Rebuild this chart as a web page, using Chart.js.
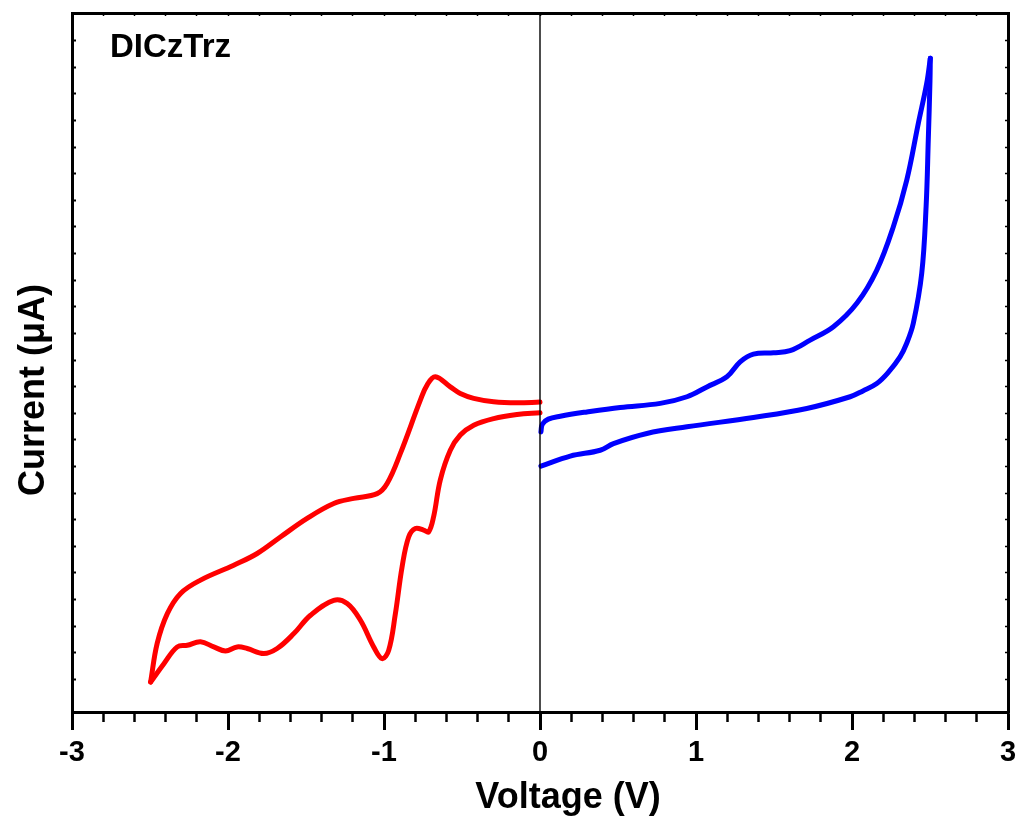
<!DOCTYPE html>
<html>
<head>
<meta charset="utf-8">
<script src="https://cdn.jsdelivr.net/npm/chart.js@4/dist/chart.umd.min.js"></script>
<style>
  html, body { margin: 0; padding: 0; background: #fff; }
  #wrap { width: 1019px; height: 818px; }
</style>
</head>
<body>
<div id="wrap"><canvas id="cv" width="1019" height="818"></canvas></div>
<script>
// voltage (V) and current (arb. tick units)
const redFwdV = [0.00, -0.147, -0.297, -0.425, -0.511, -0.575, -0.639, -0.682, -0.714, -0.746, -0.799, -0.842, -0.884, -0.927, -0.970, -1.012, -1.066, -1.151, -1.236, -1.322, -1.471, -1.578, -1.685, -1.771, -1.877, -1.941, -2.016, -2.091, -2.176, -2.261, -2.325, -2.411, -2.496];
const redFwdI = [11.02, 10.95, 10.80, 10.55, 10.18, 9.61, 8.50, 7.11, 6.54, 6.61, 6.67, 6.35, 5.23, 3.47, 2.09, 1.78, 2.22, 3.22, 3.85, 3.97, 3.41, 2.72, 2.16, 1.97, 2.16, 2.22, 2.07, 2.22, 2.41, 2.28, 2.22, 1.59, 0.90];
const redRevV = [-2.496, -2.454, -2.389, -2.304, -2.176, -1.963, -1.813, -1.664, -1.493, -1.322, -1.194, -1.044, -0.980, -0.895, -0.767, -0.724, -0.671, -0.575, -0.511, -0.425, -0.297, -0.147, 0.00];
const redRevI = [0.90, 2.35, 3.47, 4.23, 4.73, 5.29, 5.73, 6.35, 7.05, 7.61, 7.80, 7.98, 8.36, 9.49, 11.49, 12.06, 12.37, 11.99, 11.74, 11.56, 11.43, 11.39, 11.42];

const blueFwdV = [0.006, 0.015, 0.053, 0.130, 0.301, 0.514, 0.771, 0.942, 1.070, 1.198, 1.283, 1.368, 1.497, 1.603, 1.732, 1.881, 2.031, 2.159, 2.265, 2.351, 2.425, 2.479, 2.502];
const blueFwdI = [10.30, 10.59, 10.78, 10.89, 11.05, 11.22, 11.37, 11.62, 11.99, 12.37, 12.93, 13.22, 13.27, 13.35, 13.75, 14.25, 15.13, 16.38, 18.01, 19.76, 21.89, 23.40, 24.34];
const blueRevV = [2.502, 2.500, 2.489, 2.475, 2.447, 2.393, 2.350, 2.308, 2.230, 2.159, 2.070, 1.988, 1.710, 1.368, 0.942, 0.685, 0.471, 0.386, 0.194, 0.006];
const blueRevI = [24.34, 23.52, 21.27, 18.76, 16.26, 14.38, 13.62, 13.12, 12.52, 12.12, 11.84, 11.62, 11.18, 10.84, 10.49, 10.24, 9.86, 9.61, 9.39, 9.01];

const xMin = -3, xMax = 3;
const yMin = -0.226, yMax = 26.04;
const xMajorTicks = [-3, -2, -1, 0, 1, 2, 3];

function pts(xs, ys) {
  return xs.map((x, i) => ({ x: x, y: ys[i] }));
}

const FONT = "'Liberation Sans', Arial, sans-serif";

function curve(xs, ys, color) {
  return {
    data: pts(xs, ys),
    showLine: true,
    borderColor: color,
    borderWidth: 5,
    borderCapStyle: 'round',
    borderJoinStyle: 'round',
    pointRadius: 0,
    tension: 0.38,
    xAxisID: 'x',
    yAxisID: 'y'
  };
}

const textPlugin = {
  id: 'texts',
  afterDraw(chart) {
    const ctx = chart.ctx;
    ctx.save();
    ctx.fillStyle = '#000';
    ctx.textBaseline = 'alphabetic';
    ctx.font = 'bold 33px ' + FONT;
    ctx.textAlign = 'left';
    ctx.fillText('DICzTrz', 110, 57);

    ctx.font = 'bold 36px ' + FONT;
    ctx.textAlign = 'center';
    ctx.fillText('Voltage (V)', 568, 808);

    ctx.translate(44, 390);
    ctx.rotate(-Math.PI / 2);
    ctx.fillText('Current (\u03bcA)', 0, 0);
    ctx.restore();
  }
};

new Chart(document.getElementById('cv'), {
  type: 'scatter',
  data: {
    datasets: [
      {
        data: [{ x: 0, y: yMin }, { x: 0, y: yMax }],
        showLine: true,
        borderColor: '#000',
        borderWidth: 1.4,
        pointRadius: 0,
        xAxisID: 'x',
        yAxisID: 'y'
      },
      curve(redFwdV, redFwdI, '#ff0000'),
      curve(redRevV, redRevI, '#ff0000'),
      curve(blueFwdV, blueFwdI, '#0000ff'),
      curve(blueRevV, blueRevI, '#0000ff')
    ]
  },
  options: {
    responsive: false,
    animation: false,
    layout: { padding: { top: 13, right: 11, left: 0, bottom: 0 } },
    plugins: {
      legend: { display: false },
      tooltip: { enabled: false }
    },
    scales: {
      xMinor: {
        type: 'linear', position: 'bottom', weight: 0,
        min: xMin, max: xMax,
        ticks: { stepSize: 0.2, display: false, autoSkip: false },
        grid: { drawOnChartArea: false, tickLength: 10, tickWidth: 2.5, tickColor: '#000' },
        border: { display: false },
        afterFit(s) { s.height = 0; s.paddingLeft = 0; s.paddingRight = 0; }
      },
      x: {
        type: 'linear', position: 'bottom', weight: 1,
        min: xMin, max: xMax,
        afterBuildTicks(s) { s.ticks = xMajorTicks.map(v => ({ value: v })); },
        ticks: {
          color: '#000', padding: 6, autoSkip: false, maxRotation: 0,
          font: { family: FONT, size: 29, weight: 'bold' },
          callback: v => String(v)
        },
        grid: { drawOnChartArea: false, tickLength: 18, tickWidth: 3, tickColor: '#000' },
        border: { display: true, color: '#000', width: 3 },
        afterFit(s) { s.height = 106; s.paddingLeft = 0; s.paddingRight = 0; }
      },
      xTop: {
        type: 'linear', position: 'top',
        min: xMin, max: xMax,
        ticks: { stepSize: 0.2, display: false, autoSkip: false },
        grid: { drawOnChartArea: false, tickLength: -3, tickWidth: 1.5, tickColor: '#000' },
        border: { display: true, color: '#000', width: 3 },
        afterFit(s) { s.height = 0; s.paddingLeft = 0; s.paddingRight = 0; }
      },
      y: {
        type: 'linear', position: 'left',
        min: yMin, max: yMax,
        ticks: { stepSize: 1, display: false, autoSkip: false },
        grid: { drawOnChartArea: false, tickLength: -4, tickWidth: 2, tickColor: '#000' },
        border: { display: true, color: '#000', width: 3 },
        afterFit(s) { s.width = 72; s.paddingTop = 0; s.paddingBottom = 0; }
      },
      yRight: {
        type: 'linear', position: 'right',
        min: yMin, max: yMax,
        ticks: { stepSize: 1, display: false, autoSkip: false },
        grid: { drawOnChartArea: false, tickLength: -3, tickWidth: 1.5, tickColor: '#000' },
        border: { display: true, color: '#000', width: 3 },
        afterFit(s) { s.width = 0; s.paddingTop = 0; s.paddingBottom = 0; }
      }
    }
  },
  plugins: [textPlugin]
});
</script>
</body>
</html>
